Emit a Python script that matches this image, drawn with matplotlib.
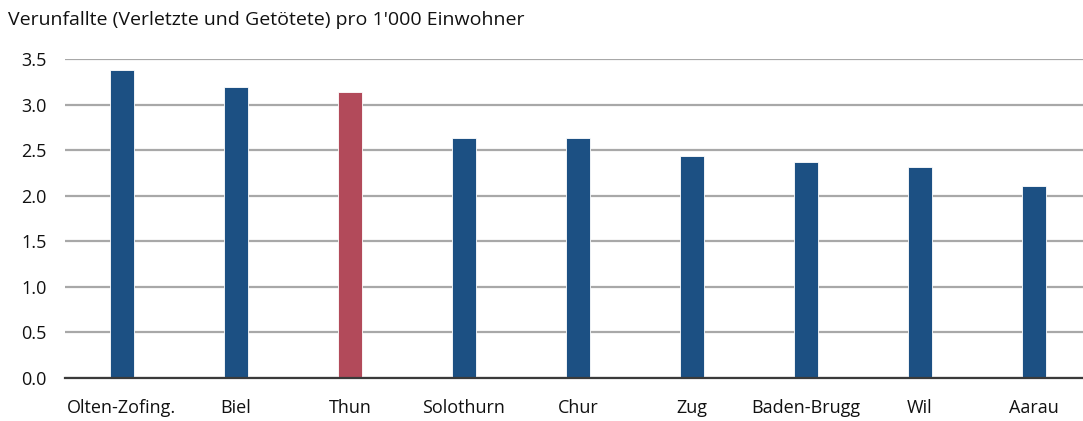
import matplotlib.pyplot as plt

# Data
regions = ['Olten-Zofing.', 'Biel', 'Thun', 'Solothurn', 'Chur',
           'Zug', 'Baden-Brugg', 'Wil', 'Aarau']
values = [3.38, 3.19, 3.14, 2.63, 2.63, 2.44, 2.375, 2.31, 2.11]
highlight = 'Thun'
y_ticks = [0.0, 0.5, 1.0, 1.5, 2.0, 2.5, 3.0, 3.5]

blue = '#1c5083'
red = '#b24a5a'
colors = [red if r == highlight else blue for r in regions]

plt.rcParams['font.family'] = ['Open Sans', 'DejaVu Sans']

fig = plt.figure(figsize=(10.83, 4.21), dpi=100)
ax = fig.add_axes([65 / 1083, 43 / 421, 1 - 65 / 1083, 319 / 421])

x = list(range(len(regions)))
ax.bar(x, values, width=0.21, color=colors, edgecolor='white',
       linewidth=0.6, zorder=3)

ax.set_ylim(0, 3.5)
ax.set_xlim(-0.5, 8.43)
ax.set_yticks(y_ticks)
ax.set_yticklabels([f'{v:.1f}' for v in y_ticks])
ax.set_xticks(x)
ax.set_xticklabels(regions)

ax.yaxis.grid(True, color='#a8a8a8', linewidth=1.6, zorder=0)
ax.set_axisbelow(True)
for side in ['top', 'right', 'left']:
    ax.spines[side].set_visible(False)
ax.spines['bottom'].set_color('#3a3a3a')
ax.spines['bottom'].set_linewidth(1.6)
ax.spines['bottom'].set_zorder(4)

ax.tick_params(axis='both', length=0, labelsize=13, colors='#111111')
ax.tick_params(axis='y', pad=13)
ax.tick_params(axis='x', pad=15)

fig.text(8 / 1083, 1 - 20 / 421, "Verunfallte (Verletzte und Getötete) pro 1'000 Einwohner",
         ha='left', va='center', fontsize=14, color='#111111')

fig.savefig('out.png', dpi=100)
